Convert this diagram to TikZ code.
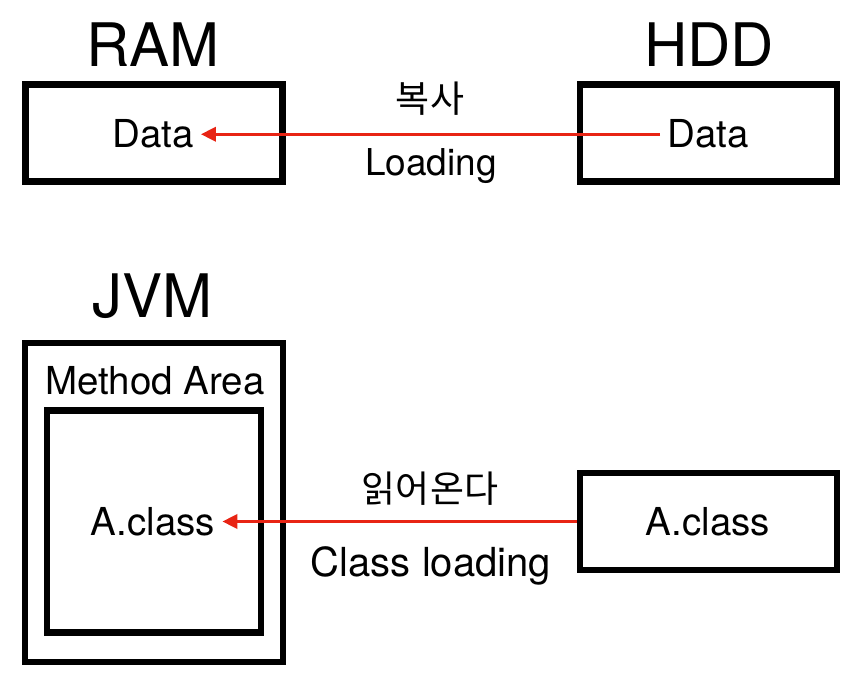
\documentclass[tikz,border=0pt]{standalone}
\usepackage{fontspec}
\setmainfont{TeX Gyre Heros}
\newfontfamily\krfont{Noto Sans CJK KR}
\usetikzlibrary{arrows.meta,positioning}
\definecolor{flowred}{rgb}{0.91,0.14,0.08}
\newcommand{\titlesize}{\fontsize{60}{60}\selectfont}
\newcommand{\textsizeb}{\fontsize{38.5}{40}\selectfont}
\newcommand{\labelsize}{\fontsize{37}{40}\selectfont}

\begin{document}
\begin{tikzpicture}[x=1pt,y=-1pt,line join=miter,
  box/.style={draw=black,line width=6.5pt,minimum width=257pt,minimum height=97pt,inner sep=0pt},
  title/.style={anchor=base,font=\titlesize,inner sep=0pt},
  txt/.style={anchor=base,font=\textsizeb,inner sep=7pt},
  flow/.style={draw=flowred,line width=3.5pt,-{Triangle[length=15pt,width=14pt]}}]
\useasboundingbox (0,0) rectangle (860,676);

% top row
\node[box] (rambox) at (154,133) {};
\node[box] (hddbox) at (708.5,133) {};
\node[title] (ram) at (153,67) {RAM};
\node[title] (hdd) at (709,67) {HDD};
\node[txt] (ramdata) at (153,148) {Data};
\node[txt] (hdddata) at (708,148) {Data};
\draw[flow] (hdddata.west) -- (ramdata.east);
\node[font=\krfont\labelsize] (copy) at (430,99) {복사};
\node[anchor=base,font=\labelsize] (loading) at (431,176) {Loading};

% bottom row
\node[box,minimum width=258pt,minimum height=319pt] (jvmbox) at (154,502.5) {};
\node[box,minimum width=214pt,minimum height=222pt] (areabox) at (154,521.5) {};
\node[title] (jvm) at (152,318) {JVM};
\node[txt,inner sep=0pt] (area) at (155,395) {Method Area};
\node[txt] (aclass) at (153,535) {A.class};
\node[box] (jarbox) at (708.5,521.5) {};
\node[txt] (fileclass) at (708,535) {A.class};
\draw[flow] (jarbox.west) -- (jarbox.west -| aclass.east);
\node[font=\krfont\labelsize] (read) at (430,489) {읽어온다};
\node[anchor=base,font=\fontsize{40}{44}\selectfont] (cload) at (431,576) {Class loading};
\end{tikzpicture}
\end{document}
